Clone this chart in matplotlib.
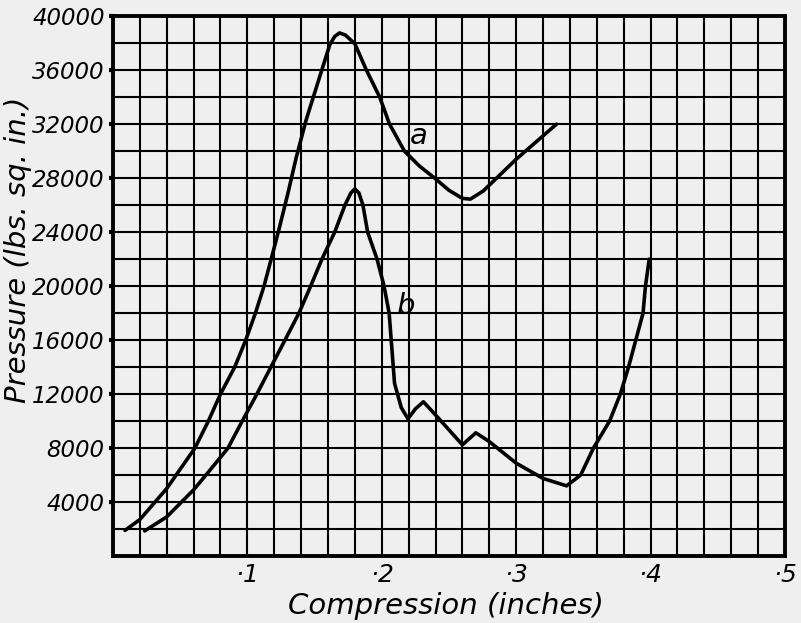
import numpy as np
import matplotlib
matplotlib.use('Agg')
import matplotlib.pyplot as plt

plt.rcParams['font.family'] = 'DejaVu Sans'

# curve a
a_x = [0.009, 0.020, 0.040, 0.061, 0.071, 0.080, 0.0906, 0.0988, 0.106, 0.1124,
       0.118, 0.1235, 0.130, 0.1363, 0.1437, 0.150, 0.156, 0.1614, 0.165, 0.1686,
       0.173, 0.180, 0.1886, 0.1985, 0.2058, 0.2169, 0.228, 0.240, 0.250, 0.260,
       0.266, 0.2755, 0.300, 0.330]
a_y = [1900, 2700, 5000, 8000, 10000, 12000, 14000, 16000, 18000, 20000,
       22100, 24200, 26800, 29500, 32300, 34300, 36200, 37900, 38500, 38760,
       38600, 37950, 36000, 34000, 32000, 30000, 28900, 27950, 27100, 26500,
       26450, 27050, 29400, 32000]

# curve b
b_x = [0.0236, 0.040, 0.060, 0.0725, 0.0856, 0.0962, 0.1071, 0.1175, 0.128, 0.1384,
       0.1471, 0.1555, 0.165, 0.1726, 0.177, 0.180, 0.183, 0.186, 0.1895, 0.1965,
       0.2017, 0.2055, 0.207, 0.2095, 0.2145, 0.2195, 0.225, 0.231, 0.2426, 0.260,
       0.270, 0.280, 0.300, 0.320, 0.3375, 0.348, 0.3575, 0.3695, 0.3775, 0.3836,
       0.389, 0.3944, 0.3962, 0.399]
b_y = [1860, 2900, 4900, 6400, 8000, 10000, 12000, 14000, 16000, 18000,
       20000, 22000, 24000, 26000, 26900, 27200, 26900, 26000, 24000, 22000,
       20000, 18000, 16050, 12800, 11000, 10170, 10900, 11430, 10170, 8240,
       9130, 8480, 6880, 5750, 5200, 6000, 8000, 10000, 12000, 14000,
       16000, 18000, 20000, 22000]

x_ticks = [0.1, 0.2, 0.3, 0.4, 0.5]
x_ticklabels = ['·1', '·2', '·3', '·4', '·5']
y_ticks = [4000, 8000, 12000, 16000, 20000, 24000, 28000, 32000, 36000, 40000]

bg = '#efefef'
fig = plt.figure(figsize=(8.01, 6.23), dpi=100, facecolor=bg)
ax = fig.add_axes([0.141, 0.1075, 0.839, 0.8665], facecolor=bg)

# graph paper grid
for gx in np.arange(0.02, 0.5, 0.02):
    ax.axvline(gx, color='black', lw=1.5, zorder=1)
for gy in np.arange(2000, 40000, 2000):
    ax.axhline(gy, color='black', lw=1.5, zorder=1)

ax.plot(a_x, a_y, color='black', lw=2.6, solid_capstyle='round', solid_joinstyle='round', zorder=3)
ax.plot(b_x, b_y, color='black', lw=2.6, solid_capstyle='round', solid_joinstyle='round', zorder=3)

ax.text(0.2274, 31100, 'a', fontsize=21, style='italic', ha='center', va='center', zorder=4)
ax.text(0.218, 18500, 'b', fontsize=21, style='italic', ha='center', va='center', zorder=4)

ax.set_xlim(0, 0.5)
ax.set_ylim(0, 40000)
ax.set_xticks(x_ticks)
ax.set_xticklabels(x_ticklabels, fontsize=18, style='italic')
ax.set_yticks(y_ticks)
ax.set_yticklabels([str(v) for v in y_ticks], fontsize=16.5, style='italic')
ax.tick_params(axis='x', length=0, pad=5)
ax.tick_params(axis='y', length=3, width=3, pad=3)
for s in ax.spines.values():
    s.set_linewidth(2.8)

ax.set_xlabel('Compression (inches)', fontsize=21, style='italic')
ax.xaxis.set_label_coords(0.4955, -0.066)
ax.set_ylabel('Pressure (lbs. sq. in.)', fontsize=21, style='italic')
ax.yaxis.set_label_coords(-0.12, 0.567)

fig.savefig('out.png', dpi=100, facecolor=bg)
